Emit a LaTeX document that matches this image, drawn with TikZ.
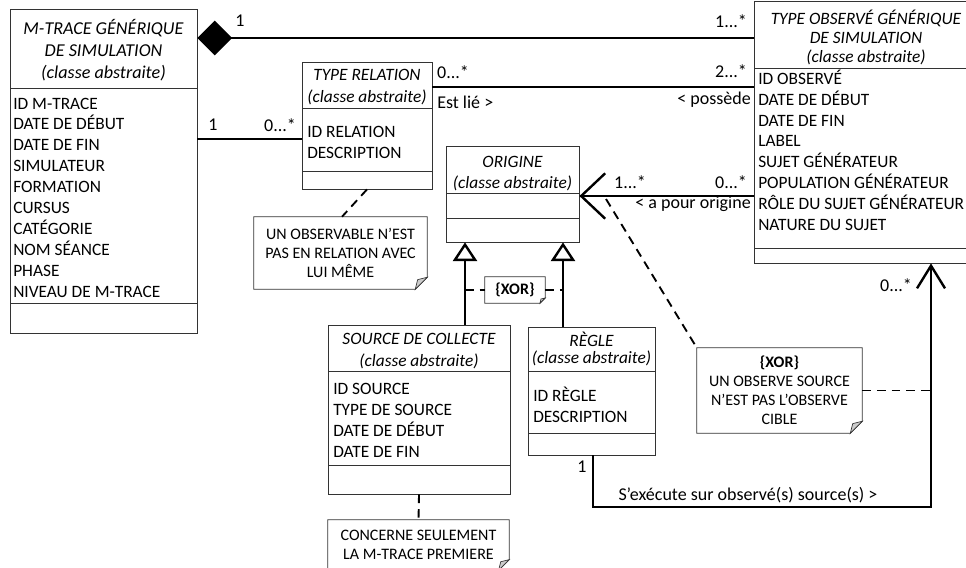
\documentclass[tikz,border=0pt]{standalone}
\usepackage{fontspec}
\setmainfont{Carlito}
\usetikzlibrary{arrows.meta,fit,positioning}

\tikzset{
	classbox/.style={draw=black!80, line width=0.6pt, inner sep=0pt},
	sepline/.style={draw=black!80, line width=0.6pt},
	head/.style={font=\fontsize{13}{15}\selectfont\itshape, inner sep=0pt, anchor=base},
	attr/.style={font=\fontsize{13}{15}\selectfont, inner sep=0pt, anchor=base west},
	mult/.style={font=\fontsize{13.5}{15}\selectfont, inner sep=0pt},
	assoc/.style={line width=1.8pt},
	gen/.style={line width=1.8pt, -{Triangle[open, length=14pt, width=18pt, fill=white]}},
	notelink/.style={line width=1.4pt, dash pattern=on 6.5pt off 4.5pt},
	note/.style={align=center, inner sep=0pt, font=\fontsize{12}{14.25}\selectfont},
}

% outline of a note with its folded corner
\newcommand{\dogear}[2]{%
	\draw[line width=0.6pt, draw=black!80] (#1.north west) -- (#1.north east) -- ([yshift=#2]#1.south east) -- ([xshift=-#2]#1.south east) -- (#1.south west) -- cycle;
	\draw[line width=0.5pt, draw=black!80, fill=black!20] ([yshift=#2]#1.south east) -- ([xshift=-#2]#1.south east) -- ([xshift={-0.8*#2}, yshift={0.8*#2}]#1.south east) -- cycle;
}

\begin{document}
\begin{tikzpicture}[x=0.75pt, y=-0.75pt]
	\useasboundingbox (0,0) rectangle (966,567);

	% classes
	\node[classbox, fit={(10,9) (197,333)}] (mtrace) {};
	\draw[sepline] (10,88) -- (197,88) (10,303) -- (197,303);
	\node[head, font=\fontsize{13.6}{15}\selectfont\itshape] (mtrace-h1) at (103.5,35) {M-TRACE GÉNÉRIQUE};
	\node[head, font=\fontsize{13.6}{15}\selectfont\itshape] (mtrace-h2) at (103.5,57) {DE SIMULATION};
	\node[head, font=\fontsize{13.6}{15}\selectfont\itshape] (mtrace-h3) at (103.5,79) {(classe abstraite)};
	\foreach \txt [count=\i from 0] in {ID M-TRACE, DATE DE DÉBUT, DATE DE FIN, SIMULATEUR, FORMATION, CURSUS, CATÉGORIE, NOM SÉANCE, PHASE, NIVEAU DE M-TRACE}
		\node[attr] (mtrace-a\i) at (13,109+20.9*\i) {\txt};

	\node[classbox, fit={(302,62) (432,189)}] (typerel) {};
	\draw[sepline] (302,108) -- (432,108) (302,171) -- (432,171);
	\node[head] (typerel-h1) at (367,80.5) {TYPE RELATION};
	\node[head] (typerel-h2) at (367,102) {(classe abstraite)};
	\node[attr] (typerel-a0) at (307,137) {ID RELATION};
	\node[attr] (typerel-a1) at (307,158) {DESCRIPTION};

	\node[classbox, fit={(446,146) (579,242)}] (origine) {};
	\draw[sepline] (446,193) -- (579,193) (446,218) -- (579,218);
	\node[head] (origine-h1) at (512.5,167) {ORIGINE};
	\node[head] (origine-h2) at (512.5,188) {(classe abstraite)};

	\node[classbox, fit={(754,1) (972,263)}] (typeobs) {};
	\draw[sepline] (754,68) -- (972,68) (754,248) -- (972,248);
	\node[head] (typeobs-h1) at (866,25) {TYPE OBSERVÉ GÉNÉRIQUE};
	\node[head] (typeobs-h2) at (866,44) {DE SIMULATION};
	\node[head] (typeobs-h3) at (866,63) {(classe abstraite)};
	\foreach \txt [count=\i from 0] in {ID OBSERVÉ, DATE DE DÉBUT, DATE DE FIN, LABEL, SUJET GÉNÉRATEUR, POPULATION GÉNÉRATEUR, RÔLE DU SUJET GÉNÉRATEUR, NATURE DU SUJET}
		\node[attr] (typeobs-a\i) at (758,84.5+20.8*\i) {\txt};

	\node[classbox, fit={(328,325) (510,494)}] (source) {};
	\draw[sepline] (328,371) -- (510,371) (328,465) -- (510,465);
	\node[head] (source-h1) at (419,344) {SOURCE DE COLLECTE};
	\node[head] (source-h2) at (419,366) {(classe abstraite)};
	\foreach \txt [count=\i from 0] in {ID SOURCE, TYPE DE SOURCE, DATE DE DÉBUT, DATE DE FIN}
		\node[attr] (source-a\i) at (333,394+21*\i) {\txt};

	\node[classbox, fit={(528,327) (655,455)}] (regle) {};
	\draw[sepline] (528,371) -- (655,371) (528,433) -- (655,433);
	\node[head] (regle-h1) at (591.5,346) {RÈGLE};
	\node[head] (regle-h2) at (591.5,363) {(classe abstraite)};
	\node[attr] (regle-a0) at (533,401) {ID RÈGLE};
	\node[attr] (regle-a1) at (533,422) {DESCRIPTION};

	% associations
	\draw[assoc, {Diamond[length=26pt, width=26pt]}-] (mtrace.east |- 0,38) -- (typeobs.west |- 0,38);
	\draw[assoc] (mtrace.east |- 0,139) -- (typerel.west |- 0,139);
	\draw[assoc] (typerel.east |- 0,87) -- (typeobs.west |- 0,87);
	\draw[assoc, -{Straight Barb[length=18pt, width=34pt]}] (typeobs.west |- 0,196) -- (origine.east |- 0,196);
	\coordinate (bend) at (931,507);
	\draw[assoc, -{Straight Barb[length=17pt, width=21pt]}] (regle.south -| 593,0) |- (bend) -- (typeobs.south -| 931,0);

	% generalisations
	\draw[gen] (source.north -| 465,0) -- (origine.south -| 465,0);
	\draw[gen] (regle.north -| 563,0) -- (origine.south -| 563,0);

	% multiplicities and roles
	\node[mult] (m-comp-l) at (240,21) {1};
	\node[mult] (m-comp-r) at (731,21) {1...*};
	\node[mult] (m-rel-l) at (213,125) {1};
	\node[mult] (m-rel-r) at (280,125) {0...*};
	\node[mult] (m-lie-l) at (453,72) {0...*};
	\node[mult, anchor=west] (l-lie) at (437,102) {Est lié >};
	\node[mult] (m-lie-r) at (731,71) {2...*};
	\node[mult, anchor=east] (l-possede) at (751,100) {< possède};
	\node[mult] (m-orig-l) at (630,182) {1...*};
	\node[mult] (m-orig-r) at (731,182) {0...*};
	\node[mult, anchor=east] (l-origine) at (751,204) {< a pour origine};
	\node[mult] (m-exec-l) at (582,467) {1};
	\node[mult] (m-exec-r) at (896,285) {0...*};
	\node[mult] (l-exec) at (748,495) {S’exécute sur observé(s) source(s) >};

	% notes
	\node[note, minimum width=129.75pt, minimum height=54pt] (note-rel) at (340.5,253) {UN OBSERVABLE N’EST\\PAS EN RELATION AVEC\\LUI MÊME};
	\dogear{note-rel}{9pt}
	\draw[notelink] (typerel.south -| 367,0) -- (note-rel.north -| 342,0);

	\node[note, font=\fontsize{12}{14.25}\selectfont\bfseries, minimum width=45pt, minimum height=19.5pt] (xor) at (515,290) {\{XOR\}};
	\dogear{xor}{4pt}
	\coordinate (xor-l) at (465,290);
	\coordinate (xor-r) at (563,290);
	\draw[notelink] (xor-l) -- (xor.west) (xor.east) -- (xor-r);

	\node[note, minimum width=123.75pt, minimum height=63.75pt] (note-obs) at (779.5,390.5) {\textbf{\{XOR\}}\\UN OBSERVE SOURCE\\N’EST PAS L’OBSERVE\\CIBLE};
	\dogear{note-obs}{9pt}
	\coordinate (orig-tag) at (606,199);
	\coordinate (exec-tag) at (931,390.5);
	\draw[notelink] (orig-tag) -- (note-obs.north west);
	\draw[notelink] (note-obs.east) -- (exec-tag);

	\node[note, minimum width=135.75pt, minimum height=37.5pt] (note-src) at (418.5,545) {CONCERNE SEULEMENT\\LA M-TRACE PREMIERE};
	\dogear{note-src}{8pt}
	\draw[notelink] (source.south) -- (note-src.north);
\end{tikzpicture}
\end{document}
